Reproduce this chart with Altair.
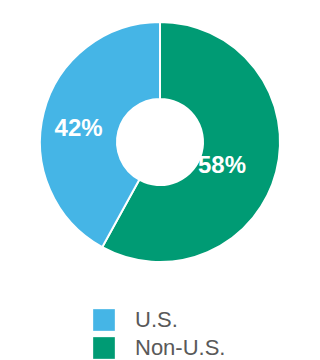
import altair as alt
import pandas as pd

regions = ["Non-U.S.", "U.S."]
shares = [58, 42]
labels = ["58%", "42%"]
legend_order = ["U.S.", "Non-U.S."]
colors = ["#45b5e6", "#009b74"]

df = pd.DataFrame({"region": regions, "share": shares, "label": labels,
                   "idx": list(range(len(regions)))})

CX, CY = 160, 142

base = alt.Chart(df)

arc = base.mark_arc(outerRadius=120, innerRadius=43, stroke="white", strokeWidth=2).encode(
    theta=alt.Theta("share:Q", stack=True),
    order=alt.Order("idx:Q"),
    color=alt.Color("region:N", scale=alt.Scale(domain=legend_order, range=colors),
                    legend=alt.Legend(orient="none", legendX=93, legendY=309, title=None,
                                      symbolType="square", symbolSize=470, symbolStrokeWidth=0,
                                      labelFontSize=22, labelColor="#595959",
                                      labelFont="Liberation Sans", labelOffset=20,
                                      rowPadding=6, padding=0)),
    x=alt.value(CX), y=alt.value(CY),
)

txt_base = base.transform_joinaggregate(total="sum(share)").transform_window(
    cum="sum(share)", sort=[alt.SortField("idx")]
).transform_calculate(
    mid="2*PI*(datum.cum - datum.share/2)/datum.total"
)

def label_layer(name, r):
    return txt_base.transform_filter(alt.datum.region == name).mark_text(
        radius=r, dy=8, fontSize=24, fontWeight="bold", color="white", font="Liberation Sans"
    ).encode(
        theta=alt.Theta("mid:Q", scale=None),
        text="label:N",
        x=alt.value(CX), y=alt.value(CY),
    )

chart = alt.layer(arc, label_layer("U.S.", 84), label_layer("Non-U.S.", 64)).properties(
    width=320, height=360, autosize=alt.AutoSizeParams(type="none"), padding=0
).configure_view(stroke=None)

chart.save("out.html", embed_options={"renderer": "svg", "actions": False})
